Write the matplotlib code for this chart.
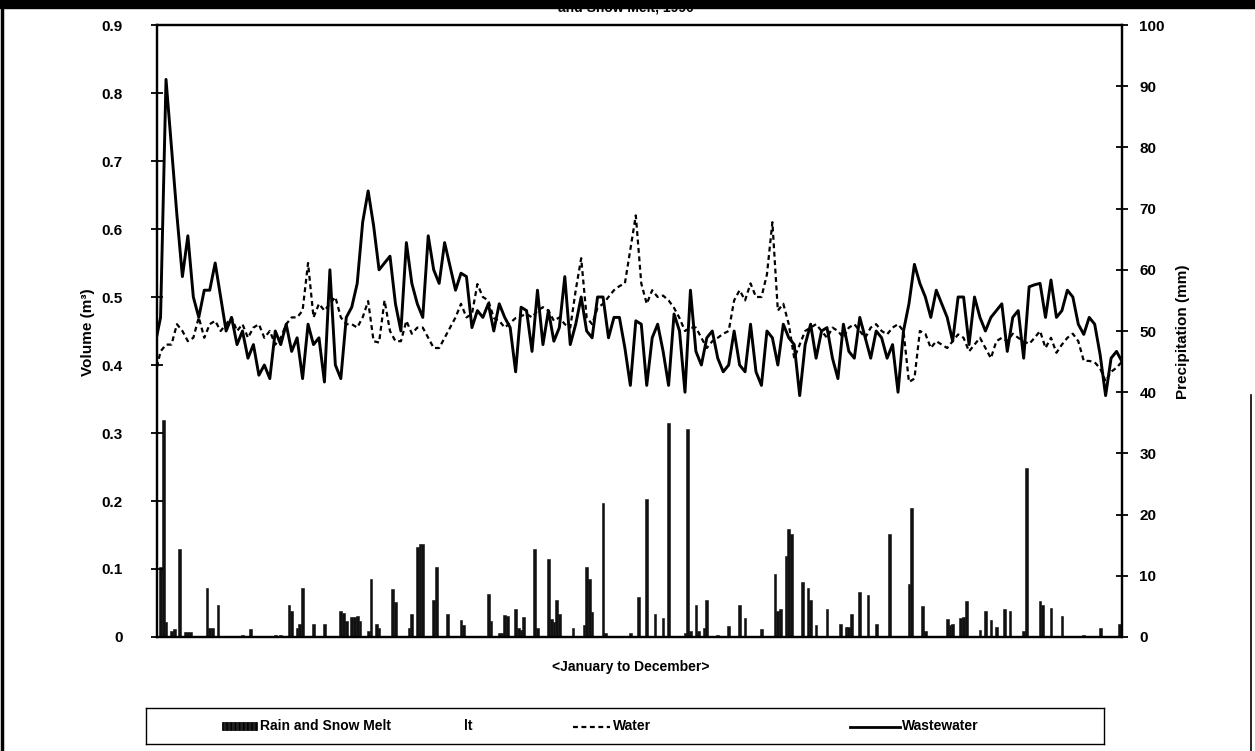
import numpy as np
import matplotlib.pyplot as plt
from matplotlib.patches import Rectangle
from matplotlib.lines import Line2D

W, H = 1255, 751

# daily volumes read every second day
sample_days = np.arange(11, 366, 2)

wastewater = [
    0.43, 0.47, 0.82, 0.72, 0.62, 0.53, 0.59, 0.50, 0.47, 0.51,
    0.51, 0.55, 0.50, 0.45, 0.47, 0.43, 0.45, 0.41, 0.43, 0.385,
    0.40, 0.38, 0.45, 0.43, 0.46, 0.42, 0.44, 0.38, 0.46, 0.43,
    0.44, 0.375, 0.54, 0.40, 0.38,
    0.47, 0.485, 0.52, 0.61, 0.656, 0.605, 0.54, 0.55, 0.56, 0.49,
    0.45, 0.58, 0.52, 0.49, 0.47, 0.59, 0.54, 0.52, 0.58, 0.545,
    0.51, 0.535, 0.53, 0.455, 0.48, 0.47, 0.49, 0.45, 0.49, 0.47,
    0.455, 0.39, 0.485, 0.48, 0.42, 0.51, 0.43, 0.48, 0.435, 0.455,
    0.53, 0.43, 0.46, 0.50, 0.45, 0.44, 0.50, 0.50, 0.44, 0.47,
    0.47, 0.425, 0.37, 0.465, 0.46, 0.37, 0.44, 0.46, 0.42, 0.37,
    0.475, 0.45, 0.36, 0.51, 0.42, 0.40, 0.44, 0.45, 0.41, 0.39,
    0.40, 0.45, 0.40, 0.39, 0.46, 0.39, 0.37, 0.45, 0.44, 0.40,
    0.46, 0.44, 0.43, 0.355, 0.43, 0.46, 0.41, 0.45, 0.455, 0.41,
    0.38, 0.46, 0.42, 0.41, 0.47, 0.44, 0.41, 0.45, 0.44, 0.41,
    0.43, 0.36, 0.45, 0.49, 0.548, 0.52, 0.50, 0.47, 0.51, 0.49,
    0.47, 0.435, 0.50, 0.50, 0.43, 0.50, 0.47, 0.45, 0.47, 0.48,
    0.49, 0.42, 0.47, 0.48, 0.41, 0.515, 0.518, 0.52, 0.47, 0.525,
    0.47, 0.48, 0.51, 0.50, 0.46, 0.445, 0.47, 0.46, 0.415, 0.355,
    0.41, 0.42, 0.405,
]

water = [
    0.385, 0.42, 0.43, 0.43, 0.46, 0.45, 0.435, 0.44, 0.47, 0.44,
    0.46, 0.465, 0.45, 0.46, 0.47, 0.45, 0.46, 0.44, 0.455, 0.46,
    0.44, 0.45, 0.43, 0.44, 0.46, 0.47, 0.47, 0.48, 0.55, 0.47,
    0.49, 0.48, 0.49, 0.50, 0.47,
    0.46, 0.46, 0.455, 0.47, 0.494, 0.435, 0.433, 0.495, 0.45, 0.435,
    0.435, 0.465, 0.446, 0.455, 0.455, 0.44, 0.425, 0.425, 0.44, 0.455,
    0.47, 0.49, 0.47, 0.475, 0.519, 0.50, 0.495, 0.469, 0.465, 0.455,
    0.462, 0.469, 0.472, 0.475, 0.47, 0.48, 0.485, 0.48, 0.465, 0.47,
    0.46, 0.455, 0.51, 0.557, 0.47, 0.46, 0.484, 0.49, 0.50, 0.51,
    0.516, 0.52, 0.57, 0.62, 0.52, 0.49, 0.51, 0.50, 0.502, 0.495,
    0.484, 0.469, 0.45, 0.455, 0.455, 0.44, 0.425, 0.435, 0.44, 0.446,
    0.45, 0.495, 0.51, 0.495, 0.52, 0.50, 0.50, 0.533, 0.61, 0.48,
    0.49, 0.46, 0.41, 0.43, 0.45, 0.455, 0.46, 0.45, 0.44, 0.455,
    0.45, 0.44, 0.455, 0.46, 0.45, 0.44, 0.455, 0.46, 0.45, 0.445,
    0.455, 0.46, 0.45, 0.375, 0.38, 0.45, 0.446, 0.425, 0.435, 0.43,
    0.425, 0.435, 0.445, 0.44, 0.42, 0.43, 0.44, 0.425, 0.41, 0.435,
    0.44, 0.435, 0.446, 0.44, 0.435, 0.431, 0.44, 0.45, 0.425, 0.44,
    0.418, 0.43, 0.44, 0.446, 0.435, 0.406, 0.406, 0.404, 0.395, 0.376,
    0.39, 0.396, 0.405,
]

# rain and snow melt (mm), only the days with a bar
rain_days = [
    13, 14, 15, 17, 18, 20, 22, 23, 24, 30, 31, 32, 34, 43, 46,
    55, 57, 60, 61, 63, 64, 65, 69, 73, 79, 80, 81, 83, 84, 85, 86, 89, 90,
    92, 93, 98, 99, 104, 105, 107, 108, 109, 113, 114, 118, 123, 124, 133,
    134, 137, 138, 139, 140, 143, 144, 145, 146, 150, 151, 155, 156, 157,
    158, 159, 164, 168, 169, 170, 171, 175, 176, 185, 188, 191, 194, 197,
    199, 205, 206, 207, 209, 210, 212, 213, 217, 221, 225, 227, 233, 238,
    239, 240, 242, 243, 244, 248, 250, 251, 253, 257, 262, 264, 265, 266,
    269, 272, 275, 280, 287, 288, 292, 293, 301, 302, 303, 306, 307, 308,
    313, 315, 317, 319, 322, 324, 329, 330, 335, 336, 339, 343, 351, 357,
    364,
]
rain_mm = [
    11.5, 35.5, 2.5, 1.0, 1.3, 14.4, 0.8, 0.8, 0.8, 8.0,
    1.4, 1.4, 5.3, 0.4, 1.3, 0.3, 0.3, 5.3, 4.2, 1.5, 2.2, 8.0, 2.2, 2.2,
    4.2, 4.0, 2.6, 3.3, 3.3, 3.5, 2.6, 0.9, 9.5, 2.2, 1.4, 7.8, 5.7, 1.4,
    3.8, 14.7, 15.2, 15.2, 6.1, 11.4, 3.7, 2.7, 2.0, 7.1, 2.6, 0.7, 0.7,
    3.6, 3.5, 4.6, 1.4, 1.1, 3.3, 14.3, 1.4, 12.7, 3.0, 2.5, 6.1, 3.8, 1.4,
    2.0, 11.4, 9.4, 4.1, 21.9, 0.7, 0.6, 6.5, 22.6, 3.8, 3.1, 35.0, 0.6,
    34.0, 1.0, 5.3, 1.0, 1.4, 6.1, 0.4, 1.8, 5.3, 3.1, 1.3, 10.3, 4.3, 4.6,
    13.2, 17.6, 16.8, 9.0, 8.0, 6.1, 2.0, 4.6, 2.2, 1.6, 1.6, 3.8, 7.4,
    6.8, 2.2, 16.8, 8.6, 21.0, 5.0, 1.0, 2.9, 2.0, 2.2, 3.1, 3.3, 5.9, 1.1,
    4.2, 2.7, 1.6, 4.5, 4.2, 1.0, 27.6, 5.9, 5.2, 4.7, 3.4, 0.4, 1.4, 2.2,
]

volume_ticks = [0, 0.1, 0.2, 0.3, 0.4, 0.5, 0.6, 0.7, 0.8, 0.9]
volume_labels = ["0", "0.1", "0.2", "0.3", "0.4", "0.5", "0.6", "0.7", "0.8", "0.9"]
precip_ticks = [0, 10, 20, 30, 40, 50, 60, 70, 80, 90, 100]

plt.rcParams["font.family"] = ["Liberation Sans", "DejaVu Sans"]
plt.rcParams["font.weight"] = "bold"

fig = plt.figure(figsize=(W / 100, H / 100), dpi=100)
fig.patch.set_facecolor("white")

# plot box in pixel terms
left, right, top, bottom = 157, 1122, 25, 637
ax = fig.add_axes([left / W, 1 - bottom / H, (right - left) / W, (bottom - top) / H])
ax2 = ax.twinx()

ax2.bar(rain_days, rain_mm, width=1.0, color="#111111", edgecolor="#111111", linewidth=0.4)
ax2.set_ylim(0, 100)
ax2.set_yticks(precip_ticks)
ax2.tick_params(axis="y", direction="inout", length=9, width=1.3, labelsize=11, pad=8)

ax.set_zorder(ax2.get_zorder() + 1)
ax.patch.set_visible(False)
ax.plot(sample_days, water, color="black", lw=1.6, linestyle=(0, (2.2, 1.6)))
ax.plot(sample_days, wastewater, color="black", lw=2.1)
ax.set_ylim(0, 0.9)
ax.set_xlim(11.7, 365)
ax.set_yticks(volume_ticks)
ax.set_yticklabels(volume_labels)
ax.set_xticks([])
ax.tick_params(axis="y", direction="inout", length=9, width=1.3, labelsize=11, pad=20)

for a in (ax, ax2):
    for s in a.spines.values():
        s.set_linewidth(1.6)
        s.set_color("black")

# axis titles placed where the scan has them
fig.text(88 / W, 1 - 332 / H, "Volume (m³)", rotation=90, ha="center", va="center",
         fontsize=11, fontweight="bold")
fig.text(1183 / W, 1 - 332 / H, "Precipitation (mm)", rotation=90, ha="center", va="center",
         fontsize=11, fontweight="bold")
fig.text(631 / W, 1 - 667 / H, "<January to December>", ha="center", va="center",
         fontsize=10, fontweight="bold")

# legend drawn in its own box
lax = fig.add_axes([146 / W, 1 - 744 / H, 958 / W, 36 / H])
lax.set_xlim(146, 1104)
lax.set_ylim(744, 708)
lax.set_xticks([])
lax.set_yticks([])
for s in lax.spines.values():
    s.set_linewidth(1.0)
lax.add_patch(Rectangle((222, 722), 35, 8, facecolor="#222222", edgecolor="black",
                        hatch="||||", linewidth=0.5))
lax.text(260, 726, "Rain and Snow Melt", fontsize=10, fontweight="bold", va="center")
lax.text(464, 726, "lt", fontsize=10, fontweight="bold", va="center")
lax.plot([573, 610], [727, 727], color="black", lw=1.6, linestyle=(0, (2.2, 1.6)))
lax.text(613, 726, "Water", fontsize=10, fontweight="bold", va="center")
lax.plot([850, 900], [727, 727], color="black", lw=2.0)
lax.text(902, 726, "Wastewater", fontsize=10, fontweight="bold", va="center")

# scan frame: black band with the clipped title, left edge, right edge
fig.text(626 / W, 1 - 12 / H, "and Snow Melt, 1990", ha="center", va="baseline",
         fontsize=10, fontweight="bold", zorder=5)
fig.patches.append(Rectangle((0, 1 - 8 / H), 1, 8 / H, transform=fig.transFigure,
                             color="black", zorder=10))
fig.lines.append(Line2D([2 / W, 2 / W], [0, 1], transform=fig.transFigure,
                        color="black", lw=2.5, zorder=10))
fig.lines.append(Line2D([1251 / W, 1251 / W], [0, 1 - 395 / H], transform=fig.transFigure,
                        color="black", lw=1.2, zorder=10))

fig.savefig("out.png", dpi=100)
